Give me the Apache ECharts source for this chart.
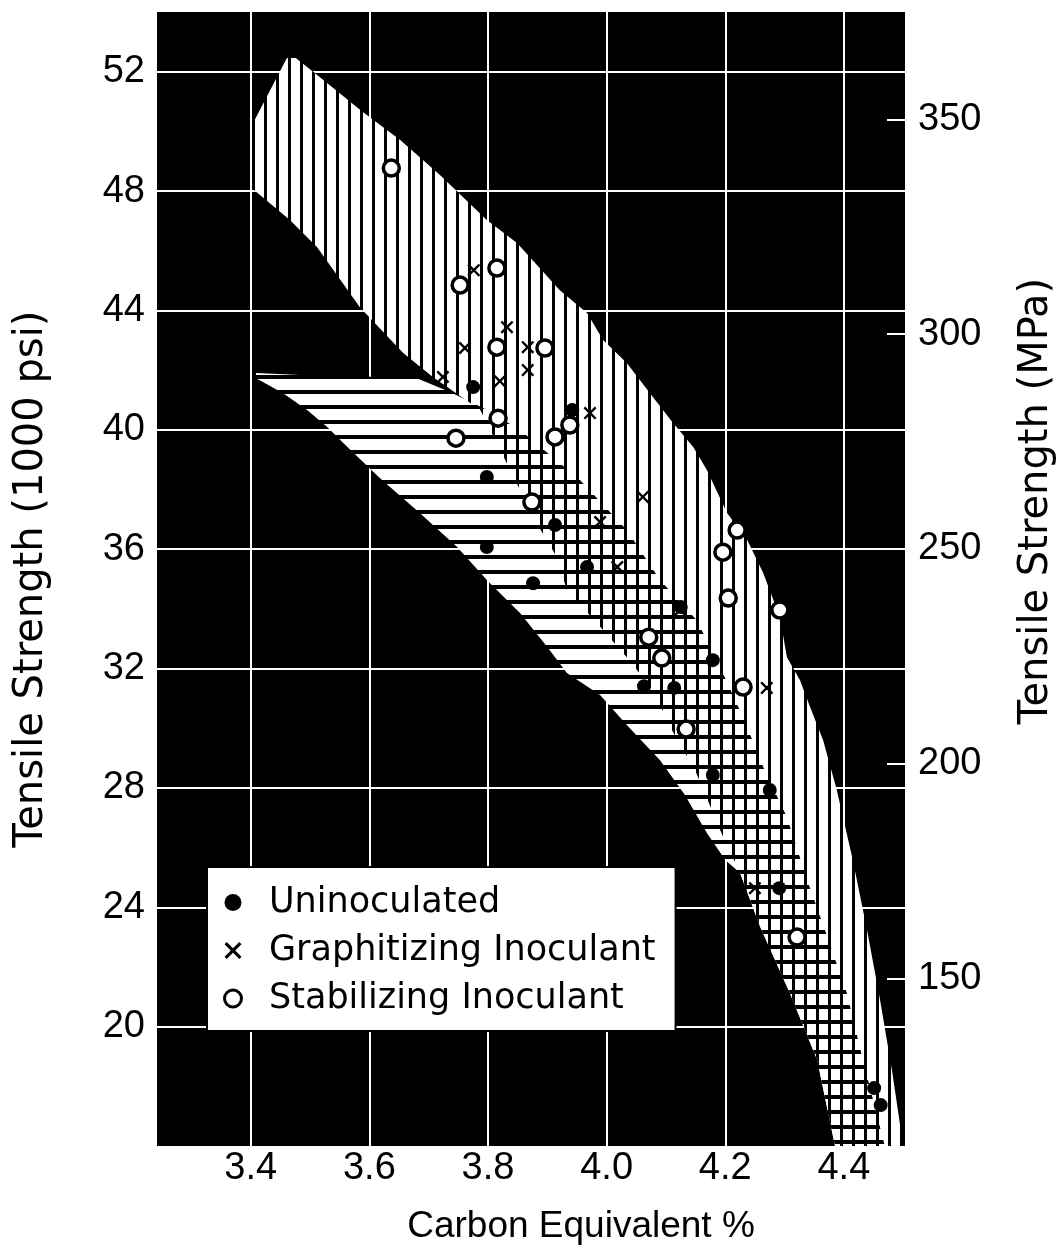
<!DOCTYPE html>
<html>
<head>
<meta charset="utf-8">
<script src="https://cdn.jsdelivr.net/npm/echarts@6/dist/echarts.min.js"></script>
<style>
  html, body { margin: 0; padding: 0; background: #fff; }
  #chart { width: 1060px; height: 1260px; }
</style>
</head>
<body>
<div id="chart"></div>
<script>
// ---- Axis ticks ----
const xTicks = [3.4, 3.6, 3.8, 4.0, 4.2, 4.4];
const yTicksPsi = [20, 24, 28, 32, 36, 40, 44, 48, 52];
const yTicksMPa = [150, 200, 250, 300, 350];

// ---- Band with vertical hatching (upper band) ----
const bandVUpper = [
  [3.404, 50.28], [3.461, 52.46], [3.476, 52.46], [3.512, 51.89], [3.589, 50.65],
  [3.652, 49.71], [3.719, 48.54], [3.798, 47.03], [3.849, 46.26], [3.921, 44.68],
  [3.967, 43.91], [3.994, 43.01], [4.034, 42.24], [4.078, 41.10], [4.112, 40.23],
  [4.146, 39.42], [4.169, 38.65], [4.203, 37.21], [4.237, 36.31], [4.264, 35.20],
  [4.292, 33.73], [4.304, 32.38], [4.326, 31.61], [4.343, 30.71], [4.365, 29.60],
  [4.388, 27.93], [4.415, 25.58], [4.439, 23.24], [4.461, 20.89], [4.481, 18.54],
  [4.500, 16.0]
];
const bandVLower = [
  [3.399, 48.14], [3.466, 47.03], [3.512, 46.12], [3.584, 44.11], [3.657, 42.57],
  [3.707, 41.77], [3.787, 40.66], [3.829, 38.99], [3.879, 36.98], [3.916, 35.74],
  [3.933, 34.63], [3.984, 33.52], [4.034, 32.38], [4.078, 31.28], [4.110, 29.94],
  [4.149, 28.60], [4.174, 27.42], [4.195, 26.42], [4.225, 25.15], [4.259, 23.34],
  [4.309, 21.12], [4.355, 18.88], [4.385, 16.0]
];

// ---- Band with horizontal hatching (lower band) ----
const bandHUpper = [
  [3.409, 41.90], [3.483, 41.84], [3.567, 41.80], [3.680, 41.73], [3.736, 41.27],
  [3.792, 40.73], [3.854, 39.99], [3.955, 38.32], [4.034, 36.64], [4.090, 34.97],
  [4.152, 33.62], [4.191, 32.05], [4.230, 30.37], [4.264, 28.70], [4.304, 27.02],
  [4.338, 24.91], [4.368, 23.24], [4.405, 21.12], [4.432, 18.88], [4.469, 16.0]
];
const bandHLower = [
  [3.409, 41.73], [3.454, 41.23], [3.495, 40.66], [3.529, 40.09], [3.556, 39.56],
  [3.618, 38.38], [3.685, 37.21], [3.748, 36.07], [3.798, 34.97], [3.854, 33.86],
  [3.900, 32.72], [3.933, 31.85], [3.989, 31.11], [4.034, 30.11], [4.090, 28.93],
  [4.132, 27.76], [4.169, 26.49], [4.200, 25.58], [4.225, 25.15], [4.259, 23.34],
  [4.309, 21.12], [4.355, 18.88], [4.385, 16.0]
];

// ---- Data points ----
const uninoculated = [
  [3.775, 41.43], [3.942, 40.66], [3.798, 38.42], [3.798, 36.07], [3.876, 34.86],
  [3.913, 36.81], [3.967, 35.40], [4.125, 34.06], [4.063, 31.41], [4.114, 31.35],
  [4.179, 32.28], [4.179, 28.43], [4.275, 27.93], [4.291, 24.64], [4.451, 17.94],
  [4.462, 17.37]
];
const graphitizing = [
  [3.776, 45.35], [3.724, 41.77], [3.761, 42.74], [3.832, 43.44], [3.867, 42.77],
  [3.867, 42.00], [3.820, 41.63], [3.972, 40.56], [4.061, 37.75], [3.989, 36.91],
  [4.018, 35.40], [4.270, 31.35], [4.124, 33.96], [4.250, 24.64]
];
const stabilizing = [
  [3.637, 48.77], [3.753, 44.85], [3.815, 45.42], [3.815, 42.77], [3.896, 42.74],
  [3.746, 39.72], [3.817, 40.39], [3.913, 39.76], [3.938, 40.16], [3.874, 37.58],
  [4.071, 33.05], [4.093, 32.35], [4.134, 29.97], [4.196, 35.90], [4.205, 34.36],
  [4.220, 36.64], [4.230, 31.38], [4.292, 33.96], [4.321, 23.00]
];

// ---- Hatch patterns ----
function makePattern(w, h, bg, draw) {
  const c = document.createElement('canvas');
  c.width = w; c.height = h;
  const ctx = c.getContext('2d');
  if (bg) { ctx.fillStyle = bg; ctx.fillRect(0, 0, w, h); }
  ctx.fillStyle = '#000';
  draw(ctx);
  return { image: c, repeat: 'repeat' };
}
const vertHatch = makePattern(12, 12, '#fff', ctx => ctx.fillRect(0, 0, 3, 12));
const vertLinesOnly = makePattern(12, 12, null, ctx => ctx.fillRect(0, 0, 3, 12));
const horizHatch = makePattern(15, 15, '#fff', ctx => ctx.fillRect(0, 0, 15, 4));

function bandRenderer(upper, lower, fill) {
  return function (params, api) {
    const pts = upper.concat(lower.slice().reverse()).map(p => api.coord(p));
    return { type: 'polygon', shape: { points: pts }, style: { fill: fill, stroke: null } };
  };
}

const xSymbol = 'path://M0,1.3L1.3,0L5,3.7L8.7,0L10,1.3L6.3,5L10,8.7L8.7,10L5,6.3L1.3,10L0,8.7L3.7,5Z';
const WIDE = 'DejaVu Sans';
const HELV = 'Liberation Sans';

const chart = echarts.init(document.getElementById('chart'), null, { renderer: 'canvas' });
chart.setOption({
  animation: false,
  backgroundColor: '#fff',
  grid: {
    left: 157, right: 155, top: 12, bottom: 114,
    containLabel: false, outerBoundsMode: 'none',
    show: true, backgroundColor: '#000', borderWidth: 0
  },
  xAxis: {
    type: 'value', min: 3.242, max: 4.503,
    name: 'Carbon Equivalent %', nameLocation: 'middle', nameGap: 62,
    nameTextStyle: { fontFamily: HELV, fontSize: 37, color: '#000', padding: [0, 0, 0, 100] },
    axisLine: { show: false },
    axisTick: { show: false, customValues: xTicks },
    axisLabel: {
      customValues: xTicks, margin: 4, color: '#000', fontFamily: HELV, fontSize: 38,
      formatter: v => v.toFixed(1)
    },
    splitLine: { show: true, lineStyle: { color: '#fff', width: 2 } }
  },
  yAxis: [{
    type: 'value', min: 16, max: 54, position: 'left',
    name: 'Tensile Strength (1000 psi)', nameLocation: 'middle', nameGap: 105, nameRotate: 90,
    nameTextStyle: { fontFamily: WIDE, fontSize: 40, color: '#000' },
    axisLine: { show: false },
    axisTick: { show: false, customValues: yTicksPsi },
    axisLabel: { customValues: yTicksPsi, margin: 12, color: '#000', fontFamily: HELV, fontSize: 38 },
    splitLine: { show: true, lineStyle: { color: '#fff', width: 2 } }
  }, {
    type: 'value', min: 111, max: 375, position: 'right',
    name: 'Tensile Strength (MPa)', nameLocation: 'middle', nameGap: 112, nameRotate: 90,
    nameTextStyle: { fontFamily: WIDE, fontSize: 40, color: '#000', padding: [0, 0, 0, 156] },
    axisLine: { show: false },
    axisTick: { show: true, inside: true, length: 18, customValues: yTicksMPa,
      lineStyle: { color: '#fff', width: 2 } },
    axisLabel: { customValues: yTicksMPa, margin: 13, color: '#000', fontFamily: HELV, fontSize: 38 },
    splitLine: { show: false }
  }],
  legend: {
    orient: 'vertical', left: 207, top: 867,
    backgroundColor: '#fff', borderColor: '#000', borderWidth: 2,
    padding: [18, 20, 15, 16], itemGap: 13, itemWidth: 50, itemHeight: 17,
    textStyle: { fontFamily: WIDE, fontSize: 35, lineHeight: 35, color: '#000', padding: [0, 0, 0, 6] },
    data: [
      { name: 'Uninoculated', icon: 'circle', itemStyle: { color: '#000' } },
      { name: 'Graphitizing Inoculant', icon: xSymbol, itemStyle: { color: '#000' } },
      { name: 'Stabilizing Inoculant', icon: 'circle',
        itemStyle: { color: '#fff', borderColor: '#000', borderWidth: 3 } }
    ]
  },
  series: [
    { type: 'custom', name: 'bandV', coordinateSystem: 'cartesian2d', clip: true, silent: true, z: 2,
      data: [[3.5, 40]], renderItem: bandRenderer(bandVUpper, bandVLower, vertHatch) },
    { type: 'custom', name: 'bandH', coordinateSystem: 'cartesian2d', clip: true, silent: true, z: 3,
      data: [[3.5, 40]], renderItem: bandRenderer(bandHUpper, bandHLower, horizHatch) },
    { type: 'custom', name: 'bandVOverlay', coordinateSystem: 'cartesian2d', clip: true, silent: true, z: 4,
      data: [[3.5, 40]], renderItem: bandRenderer(bandVUpper, bandVLower, vertLinesOnly) },
    { type: 'scatter', name: 'Uninoculated', data: uninoculated, z: 6,
      symbol: 'circle', symbolSize: 14, itemStyle: { color: '#000', opacity: 1 } },
    { type: 'scatter', name: 'Graphitizing Inoculant', data: graphitizing, z: 6,
      symbol: xSymbol, symbolSize: 13, itemStyle: { color: '#000', opacity: 1 } },
    { type: 'scatter', name: 'Stabilizing Inoculant', data: stabilizing, z: 6,
      symbol: 'circle', symbolSize: 16,
      itemStyle: { color: '#fff', borderColor: '#000', borderWidth: 3.5, opacity: 1 } }
  ]
});
</script>
</body>
</html>
